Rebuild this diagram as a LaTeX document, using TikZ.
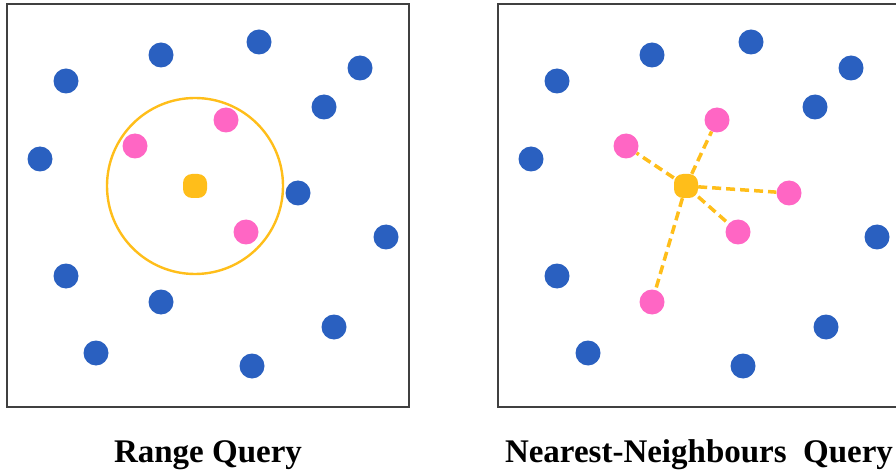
\documentclass[tikz,border=0pt]{standalone}
\usepackage{fontspec}
\setmainfont{Liberation Serif}
\definecolor{dotblue}{HTML}{2A60C0}
\definecolor{dotpink}{HTML}{FF66C4}
\definecolor{dotorange}{HTML}{FFBE1A}
\tikzset{
  panel/.style={draw=black!75, line width=1.2pt},
  pt/.style={circle, minimum size=25pt, inner sep=0pt},
  blue dot/.style={pt, fill=dotblue},
  pink dot/.style={pt, fill=dotpink},
  query dot/.style={rectangle, rounded corners=9pt, minimum size=24pt, inner sep=0pt, fill=dotorange},
  link/.style={draw=dotorange, line width=3.5pt, dash pattern=on 9pt off 5pt},
  caption/.style={font=\fontsize{33}{36}\selectfont\bfseries, anchor=base}
}
\begin{document}
\begin{tikzpicture}[x=1pt, y=-1pt]
  \useasboundingbox (0,0) rectangle (896,470);
  % range query
  \draw[panel] (7,4) rectangle (409,407);
  \foreach \x/\y [count=\i] in {66/81, 161/55, 259/42, 360/68, 324/107, 40/159,
      298/193, 386/237, 66/276, 161/302, 334/327, 96/353, 252/366}
    \node[blue dot] (lb\i) at (\x,\y) {};
  \foreach \x/\y [count=\i] in {135/146, 226/120, 246/232}
    \node[pink dot] (lp\i) at (\x,\y) {};
  \node[query dot] (lq) at (195,186) {};
  \draw[dotorange, line width=2.4pt] (lq.center) circle (88);
  \node[caption] (lcap) at (208,462) {Range Query};
  % nearest neighbours query
  \begin{scope}[xshift=491pt]
    \draw[panel] (7,4) rectangle (409,407);
    \foreach \x/\y [count=\i] in {66/81, 161/55, 260/42, 360/68, 324/107, 40/159,
        386/237, 66/276, 97/353, 252/366, 335/327}
      \node[blue dot] (rb\i) at (\x,\y) {};
    \foreach \x/\y [count=\i] in {135/146, 226/120, 298/193, 247/232, 161/302}
      \node[pink dot] (rp\i) at (\x,\y) {};
    \node[query dot] (rq) at (195,186) {};
    \foreach \i in {1,...,5}
      \draw[link] (rq) -- (rp\i);
    \node[caption] (rcap) at (208,462) {Nearest-Neighbours\ \ Query};
  \end{scope}
\end{tikzpicture}
\end{document}
